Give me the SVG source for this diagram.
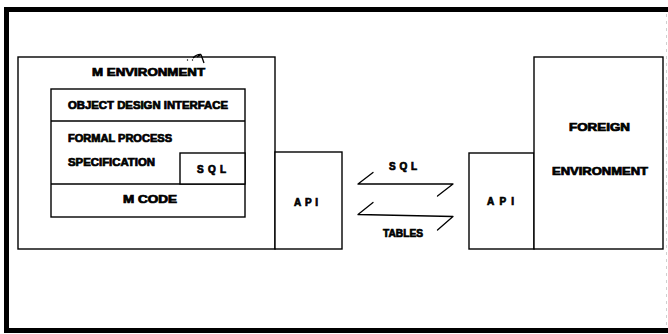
<svg xmlns="http://www.w3.org/2000/svg" width="668" height="334" viewBox="0 0 668 334">
  <style>
    .box { fill: #fff; stroke: #000; stroke-width: 1.4; }
    .div { fill: none; stroke: #000; stroke-width: 1.3; }
    .lbl { font-family: "Liberation Sans", Arial, sans-serif; font-weight: bold; font-size: 10px; fill: #000; stroke: #000; stroke-width: 0.7; }
    .flow { fill: none; stroke: #000; stroke-width: 1.3; stroke-linecap: round; stroke-linejoin: round; }
  </style>
  <rect x="0" y="0" width="668" height="334" fill="#fff"/>

  <!-- page frame: heavy rule on top, left and bottom, faint on the right -->
  <path d="M668 9.5 H6.5 V330.5 H668" fill="none" stroke="#000" stroke-width="5"/>
  <line x1="666.5" y1="14" x2="666.5" y2="326" stroke="#d0d0d0" stroke-width="1" stroke-dasharray="3 4"/>

  <!-- M environment with its nested layers -->
  <g id="m-environment">
    <rect class="box" x="18" y="57" width="257" height="192"/>
    <text class="lbl" x="92" y="76" font-size="11.5" textLength="113" lengthAdjust="spacingAndGlyphs">M ENVIRONMENT</text>
    <path class="div" d="M193 58 Q197 54 201 54.5 M201 54.5 L204 63 M201 54.5 L197 57"/>
    <circle cx="187.5" cy="60" r="0.7" fill="#000"/>
    <circle cx="192.5" cy="60" r="0.7" fill="#000"/>
  </g>

  <g id="m-layers">
    <rect class="box" x="51" y="89" width="194" height="128"/>
    <line class="div" x1="51" y1="121" x2="245" y2="121"/>
    <line class="div" x1="51" y1="184" x2="245" y2="184"/>
  </g>

  <g id="object-design-interface">
    <text class="lbl" x="68" y="109" textLength="160" lengthAdjust="spacingAndGlyphs">OBJECT DESIGN INTERFACE</text>
  </g>

  <g id="formal-process-specification">
    <text class="lbl" x="68" y="142" textLength="104" lengthAdjust="spacingAndGlyphs">FORMAL PROCESS</text>
    <text class="lbl" x="68" y="166" textLength="87" lengthAdjust="spacingAndGlyphs">SPECIFICATION</text>
  </g>

  <g id="sql-inner">
    <rect class="box" x="180" y="153" width="65" height="31"/>
    <text class="lbl" x="197" y="173" textLength="29" lengthAdjust="spacing">SQL</text>
  </g>

  <g id="m-code">
    <text class="lbl" x="123" y="203" font-size="10.5" textLength="54" lengthAdjust="spacingAndGlyphs">M CODE</text>
  </g>

  <g id="api-left">
    <rect class="box" x="275" y="152" width="67" height="97"/>
    <text class="lbl" x="294" y="206" textLength="24" lengthAdjust="spacing">API</text>
  </g>

  <!-- exchange between the two APIs -->
  <g id="connectors">
    <path class="flow" d="M373 172.5 L358 184 L453 184 L437.5 196"/>
    <path class="flow" d="M373 202.5 L358 214.5 L453 216.5 L437.5 230"/>
    <text class="lbl" x="389" y="170" font-size="9.5" textLength="28" lengthAdjust="spacing">SQL</text>
    <text class="lbl" x="383" y="237" font-size="9" textLength="40" lengthAdjust="spacingAndGlyphs">TABLES</text>
  </g>

  <g id="api-right">
    <rect class="box" x="469" y="153" width="65" height="96"/>
    <text class="lbl" x="487" y="205" textLength="27" lengthAdjust="spacing">API</text>
  </g>

  <g id="foreign-environment">
    <rect class="box" x="534" y="57" width="129" height="192"/>
    <text class="lbl" x="569" y="131" font-size="10.5" textLength="61" lengthAdjust="spacingAndGlyphs">FOREIGN</text>
    <text class="lbl" x="552" y="175" font-size="10.5" textLength="96" lengthAdjust="spacingAndGlyphs">ENVIRONMENT</text>
  </g>
</svg>
